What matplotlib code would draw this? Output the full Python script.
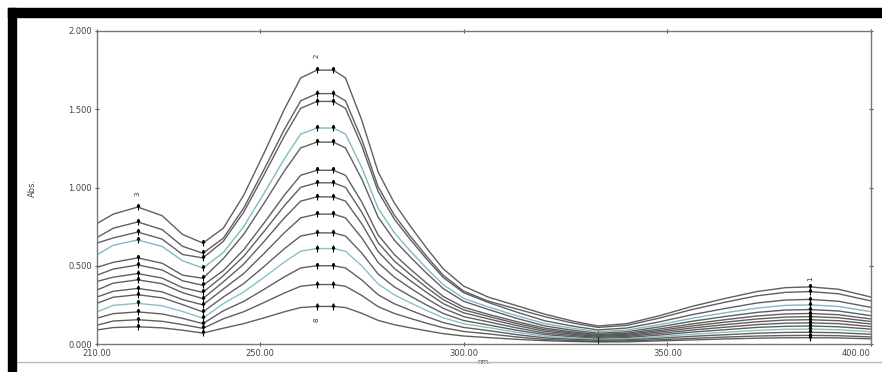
import numpy as np
import matplotlib.pyplot as plt
from matplotlib import rcParams
from matplotlib.patches import Rectangle
from matplotlib.lines import Line2D

rcParams['font.family'] = 'DejaVu Sans'
rcParams['font.size'] = 6

# === ДАННЫЕ: УФ-спектры (длина волны, нм / поглощение) ===
wavelength = [210, 214, 220, 226, 231, 236, 241, 246, 251, 256, 260, 264, 268, 271, 275,
              279, 283, 287, 291, 295, 300, 306, 313, 320, 327, 333, 340, 348, 356, 364,
              372, 379, 385, 392, 400]

abs_01 = [0.77, 0.83, 0.875, 0.82, 0.70, 0.645, 0.74, 0.95, 1.22, 1.50, 1.70, 1.75, 1.75, 1.70, 1.43,
          1.10, 0.90, 0.75, 0.61, 0.48, 0.37, 0.30, 0.245, 0.19, 0.145, 0.115, 0.13, 0.18, 0.24, 0.29,
          0.335, 0.36, 0.365, 0.35, 0.30]
abs_02 = [0.68, 0.74, 0.78, 0.731, 0.624, 0.58, 0.676, 0.868, 1.115, 1.371, 1.554, 1.60, 1.60, 1.554, 1.307,
          1.005, 0.823, 0.686, 0.558, 0.439, 0.338, 0.274, 0.224, 0.174, 0.133, 0.106, 0.119, 0.165, 0.220, 0.266,
          0.308, 0.330, 0.335, 0.321, 0.275]
abs_03 = [0.645, 0.678, 0.715, 0.670, 0.572, 0.55, 0.656, 0.842, 1.081, 1.329, 1.506, 1.55, 1.55, 1.506, 1.267,
          0.975, 0.797, 0.665, 0.540, 0.425, 0.328, 0.266, 0.204, 0.148, 0.113, 0.090, 0.102, 0.141, 0.187, 0.226,
          0.262, 0.281, 0.285, 0.273, 0.234]
abs_04 = [0.57, 0.631, 0.665, 0.623, 0.532, 0.485, 0.584, 0.750, 0.963, 1.184, 1.341, 1.38, 1.38, 1.341, 1.128,
          0.868, 0.710, 0.592, 0.481, 0.379, 0.292, 0.237, 0.181, 0.130, 0.099, 0.079, 0.089, 0.123, 0.164, 0.199,
          0.229, 0.247, 0.25, 0.240, 0.206]
abs_05 = [0.49, 0.522, 0.55, 0.516, 0.440, 0.42, 0.545, 0.700, 0.899, 1.106, 1.253, 1.29, 1.29, 1.253, 1.054,
          0.811, 0.663, 0.553, 0.450, 0.354, 0.273, 0.221, 0.164, 0.115, 0.087, 0.069, 0.078, 0.109, 0.145, 0.175,
          0.202, 0.217, 0.22, 0.211, 0.181]
abs_06 = [0.44, 0.479, 0.505, 0.473, 0.404, 0.375, 0.469, 0.602, 0.773, 0.951, 1.078, 1.11, 1.11, 1.078, 0.907,
          0.697, 0.571, 0.476, 0.387, 0.304, 0.235, 0.190, 0.143, 0.101, 0.077, 0.061, 0.069, 0.096, 0.128, 0.155,
          0.179, 0.192, 0.195, 0.187, 0.160]
abs_07 = [0.40, 0.427, 0.45, 0.421, 0.360, 0.33, 0.436, 0.560, 0.719, 0.884, 1.001, 1.03, 1.03, 1.001, 0.842,
          0.648, 0.530, 0.442, 0.359, 0.283, 0.218, 0.177, 0.131, 0.091, 0.069, 0.055, 0.062, 0.086, 0.115, 0.139,
          0.160, 0.172, 0.175, 0.168, 0.144]
abs_08 = [0.345, 0.389, 0.41, 0.385, 0.328, 0.29, 0.397, 0.510, 0.655, 0.806, 0.913, 0.94, 0.94, 0.913, 0.768,
          0.591, 0.483, 0.403, 0.328, 0.258, 0.199, 0.161, 0.118, 0.081, 0.062, 0.049, 0.055, 0.077, 0.102, 0.123,
          0.142, 0.153, 0.155, 0.149, 0.128]
abs_09 = [0.30, 0.337, 0.355, 0.333, 0.284, 0.25, 0.351, 0.450, 0.578, 0.711, 0.806, 0.83, 0.83, 0.806, 0.678,
          0.521, 0.427, 0.356, 0.289, 0.228, 0.175, 0.142, 0.103, 0.070, 0.054, 0.043, 0.048, 0.067, 0.089, 0.107,
          0.124, 0.133, 0.135, 0.130, 0.111]
abs_10 = [0.26, 0.299, 0.315, 0.295, 0.252, 0.205, 0.300, 0.386, 0.495, 0.609, 0.690, 0.71, 0.71, 0.690, 0.581,
          0.447, 0.365, 0.305, 0.248, 0.195, 0.150, 0.122, 0.088, 0.060, 0.046, 0.036, 0.041, 0.057, 0.076, 0.091,
          0.106, 0.113, 0.115, 0.110, 0.095]
abs_11 = [0.205, 0.247, 0.26, 0.244, 0.208, 0.165, 0.258, 0.332, 0.426, 0.524, 0.593, 0.61, 0.61, 0.593, 0.499,
          0.384, 0.314, 0.262, 0.213, 0.168, 0.129, 0.105, 0.075, 0.049, 0.038, 0.030, 0.034, 0.047, 0.062, 0.075,
          0.087, 0.094, 0.095, 0.091, 0.078]
abs_12 = [0.165, 0.194, 0.205, 0.192, 0.164, 0.13, 0.212, 0.272, 0.349, 0.429, 0.486, 0.50, 0.50, 0.486, 0.409,
          0.315, 0.257, 0.215, 0.174, 0.137, 0.106, 0.086, 0.060, 0.039, 0.030, 0.024, 0.027, 0.037, 0.049, 0.059,
          0.069, 0.074, 0.075, 0.072, 0.062]
abs_13 = [0.12, 0.147, 0.155, 0.145, 0.124, 0.10, 0.161, 0.206, 0.265, 0.326, 0.369, 0.38, 0.38, 0.369, 0.310,
          0.239, 0.195, 0.163, 0.132, 0.104, 0.080, 0.065, 0.045, 0.029, 0.022, 0.017, 0.020, 0.027, 0.036, 0.044,
          0.051, 0.054, 0.055, 0.053, 0.045]
abs_14 = [0.09, 0.105, 0.11, 0.103, 0.088, 0.07, 0.101, 0.130, 0.167, 0.206, 0.233, 0.24, 0.24, 0.233, 0.196,
          0.151, 0.123, 0.103, 0.084, 0.066, 0.051, 0.041, 0.030, 0.021, 0.016, 0.013, 0.014, 0.020, 0.026, 0.032,
          0.037, 0.040, 0.04, 0.039, 0.033]

spectra = [abs_01, abs_02, abs_03, abs_04, abs_05, abs_06, abs_07,
           abs_08, abs_09, abs_10, abs_11, abs_12, abs_13, abs_14]

# Отмеченные пики/минимумы (нм)
picks = [220, 236, 264, 268, 385]

x_ticks = [210, 250, 300, 350, 400]
x_labels = ['210.00', '250.00', '300.00', '350.00', '400.00']
y_ticks = [0.0, 0.5, 1.0, 1.5, 2.0]
y_labels = ['0.000', '0.500', '1.000', '1.500', '2.000']

# Цвета кривых (две бирюзовые)
line_colors = ['#444444'] * len(spectra)
line_colors[3] = '#6aaeb8'
line_colors[10] = '#74b6bf'

# === ГРАФИК ===
fig = plt.figure(figsize=(8.82, 3.72), dpi=100)
ax = fig.add_axes([97 / 882, 1 - 344 / 372, 774 / 882, 313 / 372])

wl = np.array(wavelength)
for ys, col in zip(spectra, line_colors):
    ax.plot(wl, ys, color=col, linewidth=1.0, alpha=0.85, solid_joinstyle='round')

# Метки пиков: маленькие вертикальные стрелки
for p in picks:
    i = wavelength.index(p)
    vals = np.array([s[i] for s in spectra])
    ax.vlines([p] * len(vals), vals - 0.02, vals + 0.02, color='black', linewidth=0.8)
    ax.plot([p] * len(vals), vals + 0.012, linestyle='none', marker='^',
            markersize=1.8, color='black')
# минимум около 333 нм отмечен только внизу
i333 = wavelength.index(333)
low = np.array([s[i333] for s in spectra[-4:]])
ax.vlines([333] * len(low), low - 0.012, low + 0.012, color='#222222', linewidth=0.7)
ax.plot([333, 333], [0.06, 0.09], color='#3a8a55', linewidth=0.7)

ax.text(264, spectra[0][11] + 0.08, '2', rotation=90, fontsize=5,
        ha='center', va='bottom', color='#333333')
ax.text(220, spectra[0][2] + 0.07, '3', rotation=90, fontsize=5,
        ha='center', va='bottom', color='#333333')
ax.text(264, spectra[-1][11] - 0.1, '8', rotation=90, fontsize=5,
        ha='center', va='bottom', color='#333333')
ax.text(385, spectra[0][32] + 0.04, '1', rotation=90, fontsize=5,
        ha='center', va='bottom', color='#333333')

ax.set_xlim(210, 400)
ax.set_ylim(0, 2.0)
ax.set_xticks(x_ticks)
ax.set_xticklabels(x_labels)
ax.set_yticks(y_ticks)
ax.set_yticklabels(y_labels)
ax.tick_params(direction='inout', length=3, width=0.8, colors='#555555',
               labelcolor='#444444', labelsize=6, top=True, right=True, pad=2)
ax.get_xticklabels()[-1].set_horizontalalignment('right')
for sp in ax.spines.values():
    sp.set_color('#777777')
    sp.set_linewidth(1.0)

ax.set_xlabel('nm.', fontsize=5, color='#444444', labelpad=1)
fig.text(32 / 882, 1 - 188 / 372, 'Abs.', rotation=90, fontsize=6,
         color='#444444', ha='center', va='center')

# Чёрная рамка скриншота
fig.patches.append(Rectangle((8 / 882, 1 - 17 / 372), 1 - 8 / 882, 9 / 372,
                             transform=fig.transFigure, color='black', zorder=10))
fig.patches.append(Rectangle((8 / 882, 0), 8 / 882, 1 - 8 / 372,
                             transform=fig.transFigure, color='black', zorder=10))
fig.lines.append(Line2D([16 / 882, 1], [1 - 362 / 372] * 2, transform=fig.transFigure,
                        color='#bbbbbb', linewidth=1.0))

fig.savefig('out.png', dpi=100)
